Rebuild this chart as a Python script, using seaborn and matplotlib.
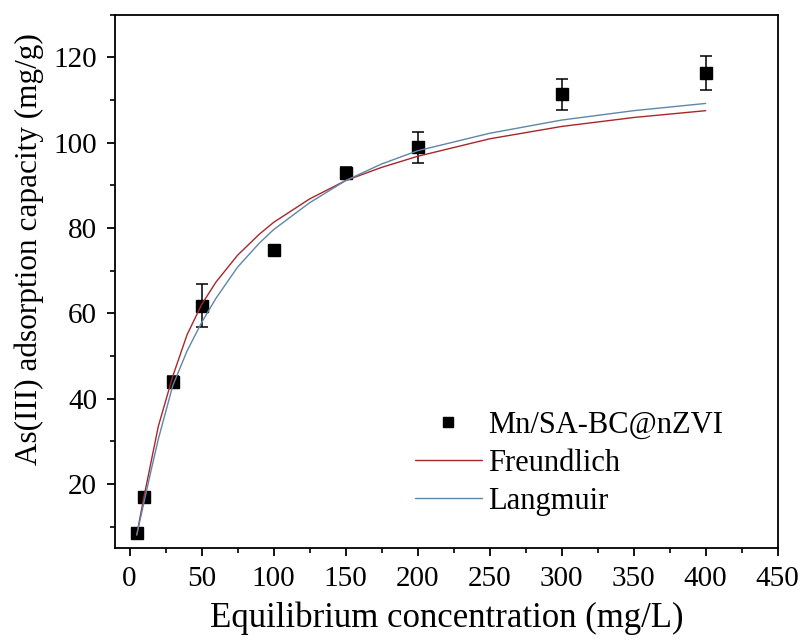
import numpy as np
import pandas as pd
import seaborn as sns
import matplotlib
matplotlib.use('Agg')
import matplotlib.pyplot as plt
from matplotlib.lines import Line2D
from matplotlib.ticker import MultipleLocator

ce = [5, 10, 30, 50, 100, 150, 200, 300, 400]
qe = [8.4, 16.9, 44.0, 61.8, 74.9, 93.0, 98.9, 111.3, 116.3]
qe_err = [0.6, 0.8, 1.2, 5.0, 1.0, 1.3, 3.7, 3.7, 4.0]

# fitted curves
fit_x = [5, 10, 15, 20, 30, 40, 50, 60, 75, 90, 100, 125, 150, 175, 200, 250, 300, 350, 400]
freundlich = [8.0, 16.9, 25.2, 33.5, 45.2, 55.0, 62.0, 67.3, 73.6, 78.5, 81.3, 86.8, 91.1,
              94.2, 96.8, 100.9, 103.8, 105.9, 107.5]
langmuir = [8.0, 15.6, 23.2, 30.5, 43.0, 51.2, 57.8, 63.5, 70.8, 76.4, 79.6, 85.9, 91.1,
            95.0, 98.1, 102.2, 105.3, 107.5, 109.2]

red = '#a8262b'
blue = '#5f86a8'

sns.set_style('ticks')
plt.rcParams['font.family'] = ['Liberation Serif', 'DejaVu Serif']
plt.rcParams['text.color'] = 'black'
plt.rcParams['axes.labelcolor'] = 'black'
plt.rcParams['xtick.color'] = 'black'
plt.rcParams['ytick.color'] = 'black'

fit_df = pd.DataFrame({'x': fit_x + fit_x,
                       'q': freundlich + langmuir,
                       'model': ['Freundlich'] * len(fit_x) + ['Langmuir'] * len(fit_x)})

fig = plt.figure(figsize=(8.05, 6.4), dpi=100)
ax = fig.add_axes([0.143, 0.144, 0.823, 0.833])

ax.errorbar(ce, qe, yerr=qe_err, fmt='none', ecolor='black', elinewidth=1.1,
            capsize=4.5, capthick=1.1, zorder=2)
ax.plot(ce, qe, 's', color='black', markersize=8.5, zorder=3)
sns.lineplot(data=fit_df, x='x', y='q', hue='model', palette=[red, blue],
             estimator=None, sort=False, linewidth=1.0, legend=False, ax=ax, zorder=4)

ax.set_xlim(-10, 450)
ax.set_ylim(5, 130)
ax.xaxis.set_major_locator(MultipleLocator(50))
ax.xaxis.set_minor_locator(MultipleLocator(25))
ax.set_yticks([20, 40, 60, 80, 100, 120])
ax.set_yticks([10, 30, 50, 70, 90, 110, 130], minor=True)
ax.tick_params(which='major', direction='out', length=6, width=1.3, labelsize=21, pad=7)
ax.tick_params(which='minor', direction='out', length=3.5, width=1.2)
for s in ax.spines.values():
    s.set_linewidth(1.3)
    s.set_color('black')

ax.set_xlabel('Equilibrium concentration (mg/L)', fontsize=25, labelpad=7)
ax.set_ylabel('As(III) adsorption capacity (mg/g)', fontsize=22.5)
ax.yaxis.set_label_coords(-0.108, 0.56)

handles = [Line2D([], [], marker='s', color='black', linestyle='none', markersize=7),
           Line2D([], [], color=red, linewidth=1.0),
           Line2D([], [], color=blue, linewidth=1.0)]
ax.legend(handles, ['Mn/SA-BC@nZVI', 'Freundlich', 'Langmuir'], loc='upper left',
          bbox_to_anchor=(0.434, 0.28), frameon=False, fontsize=22, handlelength=2.2,
          handletextpad=0.2, labelspacing=0.3, borderaxespad=0)

fig.savefig('out.png', dpi=100)
